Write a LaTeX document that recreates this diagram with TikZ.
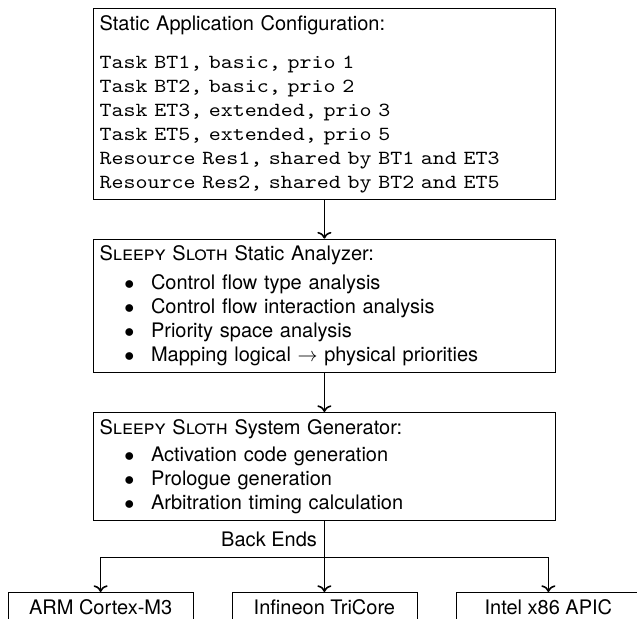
\documentclass[tikz,border=0pt]{standalone}
\usepackage{fontspec}
\setmainfont{TeX Gyre Heros}
\setmonofont{lmmono10-regular.otf}[FakeStretch=1.143]
\usetikzlibrary{positioning, arrows.meta}
\newcommand{\sleepysloth}{\textsc{Sleepy Sloth}}
\newcommand{\bitem}[1]{\makebox[25.7pt][l]{\hspace{12.4pt}$\bullet$}#1}

\begin{document}
\begin{tikzpicture}[x=1pt, y=1pt, every node/.style={font=\normalsize},
  stage/.style={draw, text width=224.8pt, align=left, inner sep=3.33pt},
  backend/.style={draw, minimum width=92.5pt, anchor=north},
  flow/.style={->, line width=0.8pt}]
\useasboundingbox (0,0) rectangle (318.5,-309);
\node[stage, anchor=north] (config) at (162.2,-4) {Static Application Configuration:\\[7pt]
  \texttt{Task BT1, basic, prio 1}\\
  \texttt{Task BT2, basic, prio 2}\\
  \texttt{Task ET3, extended, prio 3}\\
  \texttt{Task ET5, extended, prio 5}\\
  \texttt{Resource Res1, shared by BT1 and ET3}\\
  \texttt{Resource Res2, shared by BT2 and ET5}};
\node[stage, below=19.5pt of config] (analyzer) {\sleepysloth{} Static Analyzer:\\[2.5pt]
  \bitem{Control flow type analysis}\\
  \bitem{Control flow interaction analysis}\\
  \bitem{Priority space analysis}\\
  \bitem{Mapping logical $\rightarrow$ physical priorities}};
\node[stage, below=19.5pt of analyzer] (generator) {\sleepysloth{} System Generator:\\[1.5pt]
  \bitem{Activation code generation}\\
  \bitem{Prologue generation}\\
  \bitem{Arbitration timing calculation}};
\coordinate[below=18.5pt of generator] (split);
\node[backend] (arm) at (50.3,-296) {ARM Cortex-M3};
\node[backend] (tricore) at (162.2,-296) {Infineon TriCore};
\node[backend] (x86) at (274.2,-296) {Intel x86 APIC};
\draw[flow] (config) -- (analyzer);
\draw[flow] (analyzer) -- (generator);
\draw[line width=0.8pt] (generator) -- node[left] {Back Ends} (split);
\draw[flow] (split) -| (arm);
\draw[flow] (split) -- (tricore);
\draw[flow] (split) -| (x86);
\end{tikzpicture}
\end{document}
